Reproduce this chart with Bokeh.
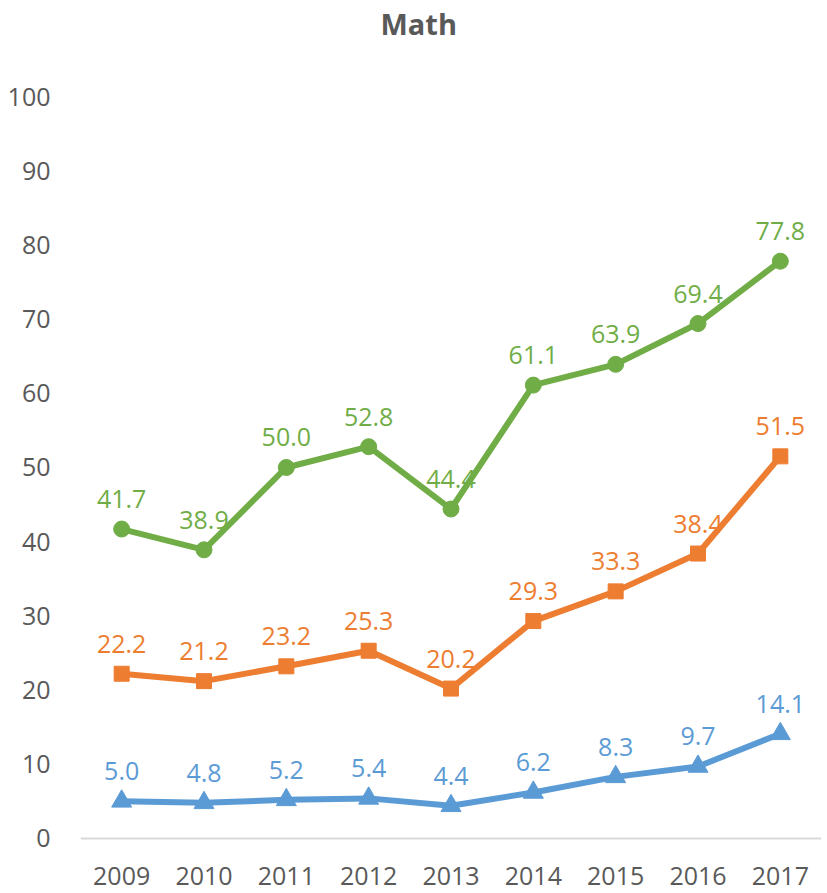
from bokeh.plotting import figure
from bokeh.models import FactorRange, Range1d, FixedTicker, ColumnDataSource, Span, Title
from bokeh.core.properties import value
from bokeh.embed import file_html
from bokeh.resources import INLINE

years = ["2009", "2010", "2011", "2012", "2013", "2014", "2015", "2016", "2017"]
green_vals = [41.7, 38.9, 50.0, 52.8, 44.4, 61.1, 63.9, 69.4, 77.8]
orange_vals = [22.2, 21.2, 23.2, 25.3, 20.2, 29.3, 33.3, 38.4, 51.5]
blue_vals = [5.0, 4.8, 5.2, 5.4, 4.4, 6.2, 8.3, 9.7, 14.1]
y_ticks = [0, 10, 20, 30, 40, 50, 60, 70, 80, 90, 100]

FONT = "Open Sans"
GREY = "#595959"

p = figure(
    x_range=FactorRange(*years, range_padding=0),
    y_range=Range1d(-7.42, 100),
    width=827, height=893,
    output_backend="svg", toolbar_location=None,
    min_border_left=80, min_border_right=6, min_border_top=0, min_border_bottom=0,
    x_axis_location=None,
)
p.outline_line_color = None
p.xgrid.grid_line_color = None
p.ygrid.grid_line_color = None

# spacer between frame and title, then the title itself
p.add_layout(Title(text=" ", text_font=FONT, text_font_size="29px", standoff=8), "above")
p.add_layout(Title(text="Math", align="left", offset=300, vertical_align="top", standoff=6,
                   text_font=FONT, text_font_style="bold", text_font_size="29px",
                   text_color=GREY), "above")

p.yaxis.ticker = FixedTicker(ticks=y_ticks)
p.yaxis.axis_line_color = None
p.yaxis.major_tick_line_color = None
p.yaxis.minor_tick_line_color = None
p.yaxis.major_label_text_font = FONT
p.yaxis.major_label_text_font_size = "25px"
p.yaxis.major_label_text_color = GREY
p.yaxis.major_label_standoff = 24

# horizontal category axis line at zero
p.add_layout(Span(location=0, dimension="width", line_color="#D9D9D9", line_width=2))

# category labels
ysrc = ColumnDataSource(dict(x=years, y=[0] * len(years), lab=years))
p.text("x", "y", text="lab", source=ysrc, text_color=GREY, text_font=value(FONT),
       text_font_size="25px", text_align="center", text_baseline="middle", y_offset=38)

series = [
    (green_vals, "#70AD47", "circle", 16),
    (orange_vals, "#ED7D31", "square", 15),
    (blue_vals, "#5B9BD5", "triangle", 20),
]
for vals, color, marker, size in series:
    src = ColumnDataSource(dict(x=years, y=vals, lab=[f"{v:.1f}" for v in vals]))
    p.line("x", "y", source=src, line_color=color, line_width=6, line_join="round")
    p.scatter("x", "y", source=src, marker=marker, size=size, fill_color=color, line_color=color)
    p.text("x", "y", text="lab", source=src, text_color=color, text_font=value(FONT),
           text_font_size="25px", text_align="center", text_baseline="alphabetic", y_offset=-30)

open("out.html", "w").write(file_html(p, INLINE))
